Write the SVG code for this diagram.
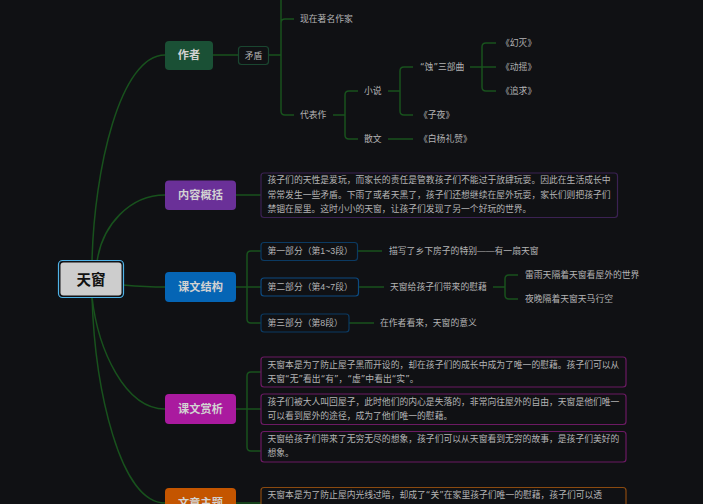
<svg xmlns="http://www.w3.org/2000/svg" width="703" height="504" viewBox="0 0 703 504">
<style>
text{font-family:"Liberation Sans","Noto Sans CJK SC",sans-serif;fill:#b4b4b4;font-size:8.8px}
.q{font-family:"DejaVu Sans",sans-serif}
.b{font-size:11.2px;font-weight:700;fill:#d2d2d2;text-anchor:middle}
.bx{fill:#101114;stroke-width:1.2}
#connectors path{fill:none;stroke:#18521d;stroke-width:1.5}
</style>
<rect width="703" height="504" fill="#101114"/>
<g id="connectors">
<path d="M92 262C94 170 120 55 165 55"/>
<path d="M97 262C102 225 130 195 165 195"/>
<path d="M123 285C135 286 150 287 165 287"/>
<path d="M92 297C98 350 125 409 165 409"/>
<path d="M92 297C95 390 120 503 165 503"/>
<path d="M213 55H238M268 55H281M281 0V111Q281 115 285 115H294M281 23Q281 19 285 19H294"/>
<path d="M333 115H345M345 95Q345 91 349 91H358M345 135Q345 139 349 139H358M345 95V135"/>
<path d="M388 91H400M400 71Q400 67 404 67H413M400 111Q400 115 404 115H413M400 71V111"/>
<path d="M470 67H482M482 47Q482 43 486 43H496M482 87Q482 91 486 91H496M482 47V87M482 67H496"/>
<path d="M388 139H413"/>
<path d="M236 195H261"/>
<path d="M236 287H247M261 251H251Q247 251 247 255V319Q247 323 251 323H261M247 287H261"/>
<path d="M358 251H382M359 287H384M349 323H374"/>
<path d="M493 287H505M505 279Q505 275 509 275H518M505 295Q505 299 509 299H518M505 279V295"/>
<path d="M236 409H247M261 372H251Q247 372 247 376V447Q247 451 251 451H261M247 409H261"/>
<path d="M236 503H261"/>
</g>
<g id="root"><rect x="58.500" y="260.500" width="65" height="37" rx="4" fill="#101114" stroke="#4fb3e8" stroke-width="1.2"/><rect x="60.500" y="262.500" width="61" height="33" rx="3" fill="#cdcdcd"/><text x="91" y="284.500" text-anchor="middle" font-weight="700" style="font-size:14.500px;fill:#111">天窗</text></g>
<g id="n-author"><rect x="165" y="41" width="48" height="29" rx="4" fill="#1a5035"/><text class="b" x="189" y="59">作者</text></g>
<g id="n-summary"><rect x="165" y="180.500" width="71" height="29.500" rx="4" fill="#6a3098"/><text class="b" x="200.500" y="199">内容概括</text></g>
<g id="n-structure"><rect x="165" y="272" width="71" height="30" rx="4" fill="#0565b5"/><text class="b" x="200.500" y="291">课文结构</text></g>
<g id="n-analysis"><rect x="165" y="394" width="71" height="30" rx="4" fill="#aa1a9f"/><text class="b" x="200.500" y="413">课文赏析</text></g>
<g id="n-theme"><rect x="165" y="488" width="71" height="30" rx="4" fill="#c45500"/><text class="b" x="200.500" y="507">文章主题</text></g>
<g id="n-maodun"><rect class="bx" x="238.500" y="46.500" width="30" height="18" rx="3" stroke="#1a4630"/><text x="253.500" y="58.500" text-anchor="middle">矛盾</text></g>
<g id="n-author-t1"><text x="300" y="22">现在著名作家</text></g>
<g id="n-author-t2"><text x="300" y="118">代表作</text></g>
<g id="n-novel"><text x="364" y="94">小说</text></g>
<g id="n-prose"><text x="364" y="142">散文</text></g>
<g id="n-trilogy"><text x="420" y="70"><tspan class="q">“</tspan>蚀<tspan class="q">”</tspan>三部曲</text></g>
<g id="n-ziye"><text x="419" y="118">《子夜》</text></g>
<g id="n-baiyang"><text x="419" y="142">《白杨礼赞》</text></g>
<g id="n-huanmie"><text x="501" y="46">《幻灭》</text></g>
<g id="n-dongyao"><text x="501" y="70">《动摇》</text></g>
<g id="n-zhuiqiu"><text x="501" y="94">《追求》</text></g>
<g id="n-summary-t"><rect class="bx" x="261" y="173" width="356.500" height="44.500" rx="3" stroke="#3b2253"/><text x="267.500" y="183">孩子们的天性是爱玩，而家长的责任是管教孩子们不能过于放肆玩耍。因此在生活成长中</text><text x="267.500" y="198">常常发生一些矛盾。下雨了或者天黑了，孩子们还想继续在屋外玩耍，家长们则把孩子们</text><text x="267.500" y="212">禁锢在屋里。这时小小的天窗，让孩子们发现了另一个好玩的世界。</text></g>
<g id="n-part1"><rect class="bx" x="261" y="242.500" width="96.500" height="18" rx="3" stroke="#0b3a62"/><text x="267.500" y="254">第一部分（第1~3段）</text></g>
<g id="n-part1-t"><text x="389" y="254">描写了乡下房子的特别——有一扇天窗</text></g>
<g id="n-part2"><rect class="bx" x="261" y="278" width="97.500" height="18" rx="3" stroke="#0c4a80"/><text x="267.500" y="290">第二部分（第4~7段）</text></g>
<g id="n-part2-t"><text x="390" y="290">天窗给孩子们带来的慰藉</text></g>
<g id="n-part2-a"><text x="525" y="278">雷雨天隔着天窗看屋外的世界</text></g>
<g id="n-part2-b"><text x="525" y="302">夜晚隔着天窗天马行空</text></g>
<g id="n-part3"><rect class="bx" x="261" y="314" width="88" height="18" rx="3" stroke="#0b3a62"/><text x="267.500" y="326">第三部分（第8段）</text></g>
<g id="n-part3-t"><text x="380" y="326">在作者看来，天窗的意义</text></g>
<g id="n-a1"><rect class="bx" x="261" y="357" width="365" height="30" rx="3" stroke="#6b1a63"/><text x="267.500" y="368">天窗本是为了防止屋子黑而开设的，却在孩子们的成长中成为了唯一的慰藉。孩子们可以从</text><text x="267.500" y="382">天窗<tspan class="q">“</tspan>无<tspan class="q">”</tspan>看出<tspan class="q">“</tspan>有<tspan class="q">”</tspan>，<tspan class="q">“</tspan>虚<tspan class="q">”</tspan>中看出<tspan class="q">“</tspan>实<tspan class="q">”</tspan>。</text></g>
<g id="n-a2"><rect class="bx" x="261" y="394" width="365" height="30.500" rx="3" stroke="#6b1a63"/><text x="267.500" y="405">孩子们被大人叫回屋子，此时他们的内心是失落的，非常向往屋外的自由，天窗是他们唯一</text><text x="267.500" y="419">可以看到屋外的途径，成为了他们唯一的慰藉。</text></g>
<g id="n-a3"><rect class="bx" x="261" y="431.500" width="365" height="30.500" rx="3" stroke="#6b1a63"/><text x="267.500" y="442">天窗给孩子们带来了无穷无尽的想象，孩子们可以从天窗看到无穷的故事，是孩子们美好的</text><text x="267.500" y="456">想象。</text></g>
<g id="n-theme-t"><rect class="bx" x="261" y="487.500" width="365" height="40" rx="3" stroke="#8a4a10"/><text x="267.500" y="498">天窗本是为了防止屋内光线过暗，却成了<tspan class="q">“</tspan>关<tspan class="q">”</tspan>在家里孩子们唯一的慰藉，孩子们可以透</text></g>
</svg>
